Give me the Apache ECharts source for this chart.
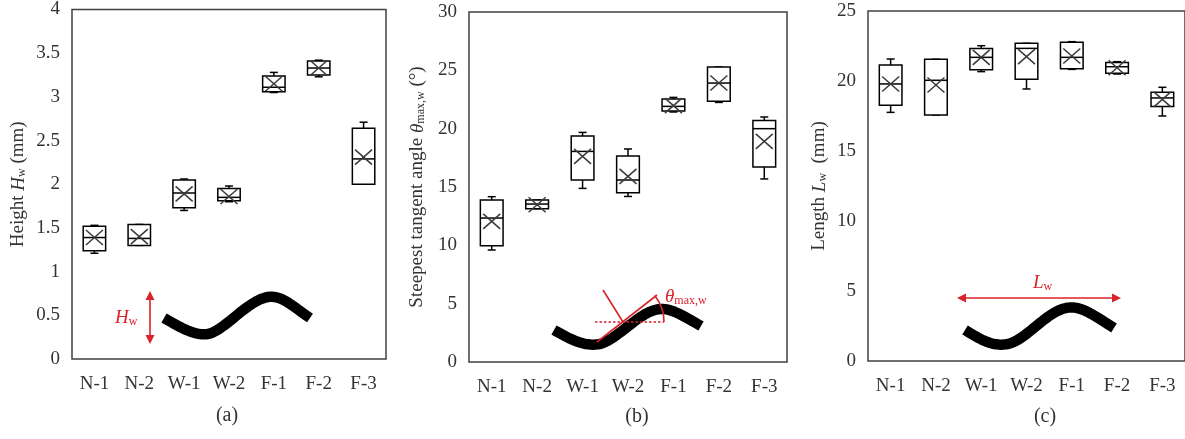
<!DOCTYPE html>
<html><head><meta charset="utf-8">
<script src="https://cdn.jsdelivr.net/npm/echarts@6/dist/echarts.min.js"></script>
<style>html,body{margin:0;padding:0;background:#fff}#c{width:1185px;height:439px}</style>
</head><body><div id="c"></div>
<script>
// ---------------- data ----------------
const categories = ['N-1', 'N-2', 'W-1', 'W-2', 'F-1', 'F-2', 'F-3'];

// (a) Height Hw (mm)
const heightMin    = [1.21, 1.30, 1.70, 1.80, 3.05, 3.23, 2.00];
const heightQ1     = [1.24, 1.30, 1.73, 1.81, 3.06, 3.25, 2.00];
const heightMedian = [1.39, 1.38, 1.90, 1.85, 3.11, 3.33, 2.29];
const heightQ3     = [1.52, 1.54, 2.05, 1.95, 3.24, 3.41, 2.64];
const heightMax    = [1.53, 1.54, 2.06, 1.98, 3.28, 3.42, 2.71];
const heightMean   = [1.39, 1.40, 1.89, 1.86, 3.15, 3.33, 2.31];

// (b) Steepest tangent angle (deg)
const angleMin    = [9.6, 13.14, 14.88, 14.19, 21.43, 22.25, 15.69];
const angleQ1     = [9.97, 13.14, 15.6, 14.51, 21.51, 22.34, 16.71];
const angleMedian = [12.34, 13.54, 18.05, 15.6, 21.91, 23.91, 20.0];
const angleQ3     = [13.89, 13.89, 19.37, 17.66, 22.54, 25.29, 20.71];
const angleMax    = [14.17, 13.89, 19.68, 18.26, 22.68, 25.29, 21.0];
const angleMean   = [12.05, 13.48, 17.62, 15.91, 21.97, 23.91, 18.91];

// (c) Length Lw (mm)
const lengthMin    = [17.76, 17.57, 20.67, 19.43, 20.83, 20.5, 17.5];
const lengthQ1     = [18.26, 17.57, 20.81, 20.12, 20.88, 20.55, 18.17];
const lengthMedian = [19.79, 20.05, 21.69, 22.33, 21.69, 21.02, 18.79];
const lengthQ3     = [21.14, 21.55, 22.33, 22.69, 22.76, 21.33, 19.19];
const lengthMax    = [21.57, 21.55, 22.52, 22.69, 22.81, 21.38, 19.55];
const lengthMean   = [19.79, 19.71, 21.69, 21.74, 21.79, 20.95, 18.69];

// ---------------- helpers ----------------
const FONT = '"Liberation Serif", "Times New Roman", serif';
const RED = '#d8232a';
const TXT = '#333';

function rows(mn, q1, md, q3, mx, mean) {
  return categories.map((c, i) => [i, mn[i], q1[i], md[i], q3[i], mx[i], mean[i]]);
}

function boxRender(params, api) {
  const i = api.value(0);
  const x = api.coord([i, 0])[0];
  const band = api.size([1, 0])[0];
  const bw = band * 0.5;
  const cw = 8;
  const y = k => api.coord([i, api.value(k)])[1];
  const yMin = y(1), yQ1 = y(2), yMed = y(3), yQ3 = y(4), yMax = y(5), yMean = y(6);
  const ls = { stroke: '#000', lineWidth: 1.5 };
  const xs = { stroke: '#3a3a3a', lineWidth: 1.5 };
  const mx = 8.5, my = 7.5;
  return { type: 'group', children: [
    { type: 'line', shape: { x1: x, y1: yMax, x2: x, y2: yQ3 }, style: ls },
    { type: 'line', shape: { x1: x - cw / 2, y1: yMax, x2: x + cw / 2, y2: yMax }, style: ls },
    { type: 'line', shape: { x1: x, y1: yQ1, x2: x, y2: yMin }, style: ls },
    { type: 'line', shape: { x1: x - cw / 2, y1: yMin, x2: x + cw / 2, y2: yMin }, style: ls },
    { type: 'rect', shape: { x: x - bw / 2, y: yQ3, width: bw, height: yQ1 - yQ3 }, style: { fill: '#fff', stroke: '#000', lineWidth: 1.5 } },
    { type: 'line', shape: { x1: x - bw / 2, y1: yMed, x2: x + bw / 2, y2: yMed }, style: ls },
    { type: 'line', shape: { x1: x - mx, y1: yMean - my, x2: x + mx, y2: yMean + my }, style: xs },
    { type: 'line', shape: { x1: x - mx, y1: yMean + my, x2: x + mx, y2: yMean - my }, style: xs }
  ]};
}

const richBase = {
  t: { fontFamily: FONT, fontSize: 19, color: TXT },
  i: { fontFamily: FONT, fontSize: 19, color: TXT, fontStyle: 'italic' },
  s: { fontFamily: FONT, fontSize: 12, color: TXT, verticalAlign: 'bottom', lineHeight: 14 }
};

function xAxisOf(g) {
  return { type: 'category', gridIndex: g, data: categories,
    axisTick: { show: false }, axisLine: { show: false },
    axisLabel: { fontFamily: FONT, fontSize: 19, color: TXT, margin: 16 } };
}
function yAxisOf(g, max, interval, name, gap) {
  return { type: 'value', gridIndex: g, min: 0, max: max, interval: interval,
    splitLine: { show: false }, axisLine: { show: false }, axisTick: { show: false },
    axisLabel: { fontFamily: FONT, fontSize: 19, color: TXT, margin: 12 },
    name: name, nameLocation: 'middle', nameGap: gap,
    nameTextStyle: { fontFamily: FONT, fontSize: 19, color: TXT, rich: richBase } };
}

// illustration helpers (decorations, not data)
function bez(segs) {
  const pts = [];
  segs.forEach(s => {
    for (let k = 0; k <= 20; k++) {
      const t = k / 20, u = 1 - t;
      pts.push([
        u*u*u*s[0] + 3*u*u*t*s[2] + 3*u*t*t*s[4] + t*t*t*s[6],
        u*u*u*s[1] + 3*u*u*t*s[3] + 3*u*t*t*s[5] + t*t*t*s[7]
      ]);
    }
  });
  return pts;
}
function wave(segs) {
  return { type: 'polyline', shape: { points: bez(segs) }, style: { stroke: '#000', lineWidth: 10.5, fill: null, lineJoin: 'round' }, z: 10 };
}
function arrowHead(tx, ty, dx, dy) {
  const L = 9, W = 4.5;
  const bx = tx - dx * L, by = ty - dy * L;
  return { type: 'polygon', shape: { points: [[tx, ty], [bx - dy * W, by + dx * W], [bx + dy * W, by - dx * W]] }, style: { fill: RED }, z: 11 };
}
function redLine(x1, y1, x2, y2, dash) {
  return { type: 'line', shape: { x1, y1, x2, y2 }, style: { stroke: RED, lineWidth: 1.6, lineDash: dash || null }, z: 11 };
}
const redRich = {
  i: { fontFamily: FONT, fontSize: 19, fill: RED, fontStyle: 'italic' },
  s: { fontFamily: FONT, fontSize: 12, fill: RED, verticalAlign: 'bottom', lineHeight: 14 }
};
function panelLabel(x, y, t) {
  return { type: 'text', x: x, y: y, style: { text: t, fontFamily: FONT, fontSize: 20, fill: TXT, align: 'center', verticalAlign: 'middle' } };
}

const graphics = [
  // panel (a)
  wave([[164, 318, 180, 327, 194, 336, 208, 334], [208, 334, 224, 331, 248, 300, 268, 297], [268, 297, 282, 295, 292, 306, 310, 318]]),
  redLine(150, 298, 150, 337), arrowHead(150, 291, 0, -1), arrowHead(150, 344, 0, 1),
  { type: 'text', x: 115, y: 318, style: { text: '{i|H}{s|w}', rich: redRich, verticalAlign: 'middle' }, z: 11 },
  // panel (b)
  wave([[554, 330, 570, 339, 584, 347, 600, 344], [600, 344, 616, 340, 638, 314, 655, 310], [655, 310, 668, 306, 680, 314, 701, 326]]),
  redLine(597, 342, 657, 295), redLine(603, 290, 623, 322), redLine(595, 322, 664, 322, [2.5, 2]),
  { type: 'arc', shape: { cx: 622, cy: 322, r: 42, startAngle: -0.68, endAngle: 0, clockwise: true }, style: { stroke: RED, lineWidth: 1.6, fill: null }, z: 11 },
  { type: 'text', x: 665, y: 297, style: { text: '{i|θ}{s|max,w}', rich: redRich, verticalAlign: 'middle' }, z: 11 },
  // panel (c)
  wave([[965, 330, 980, 339, 992, 347, 1008, 344], [1008, 344, 1026, 340, 1046, 312, 1066, 308], [1066, 308, 1080, 305, 1092, 314, 1114, 328]]),
  redLine(964, 298, 1114, 298), arrowHead(957, 298, -1, 0), arrowHead(1121, 298, 1, 0),
  { type: 'text', x: 1033, y: 283, style: { text: '{i|L}{s|w}', rich: redRich, verticalAlign: 'middle' }, z: 11 },
  // panel labels
  panelLabel(227, 416, '(a)'), panelLabel(637, 417, '(b)'), panelLabel(1045, 417, '(c)')
];

const chart = echarts.init(document.getElementById('c'), null, { renderer: 'canvas' });
chart.setOption({
  animation: false,
  backgroundColor: '#fff',
  grid: [
    { left: 72, top: 9, width: 314, height: 350, show: true, borderColor: '#404040', borderWidth: 1.5, backgroundColor: 'transparent' },
    { left: 469, top: 12, width: 318, height: 350, show: true, borderColor: '#404040', borderWidth: 1.5, backgroundColor: 'transparent' },
    { left: 868, top: 11, width: 318, height: 350, show: true, borderColor: '#404040', borderWidth: 1.5, backgroundColor: 'transparent' }
  ],
  xAxis: [xAxisOf(0), xAxisOf(1), xAxisOf(2)],
  yAxis: [
    yAxisOf(0, 4, 0.5, '{t|Height }{i|H}{s|w}{t| (mm)}', 44),
    yAxisOf(1, 30, 5, '{t|Steepest tangent angle }{i|θ}{s|max,w}{t| (°)}', 42),
    yAxisOf(2, 25, 5, '{t|Length }{i|L}{s|w}{t|  (mm)}', 39)
  ],
  series: [
    { type: 'custom', xAxisIndex: 0, yAxisIndex: 0, renderItem: boxRender, encode: { x: 0, y: [1, 2, 3, 4, 5, 6] },
      data: rows(heightMin, heightQ1, heightMedian, heightQ3, heightMax, heightMean) },
    { type: 'custom', xAxisIndex: 1, yAxisIndex: 1, renderItem: boxRender, encode: { x: 0, y: [1, 2, 3, 4, 5, 6] },
      data: rows(angleMin, angleQ1, angleMedian, angleQ3, angleMax, angleMean) },
    { type: 'custom', xAxisIndex: 2, yAxisIndex: 2, renderItem: boxRender, encode: { x: 0, y: [1, 2, 3, 4, 5, 6] },
      data: rows(lengthMin, lengthQ1, lengthMedian, lengthQ3, lengthMax, lengthMean) }
  ],
  graphic: graphics
});
</script>
</body></html>
